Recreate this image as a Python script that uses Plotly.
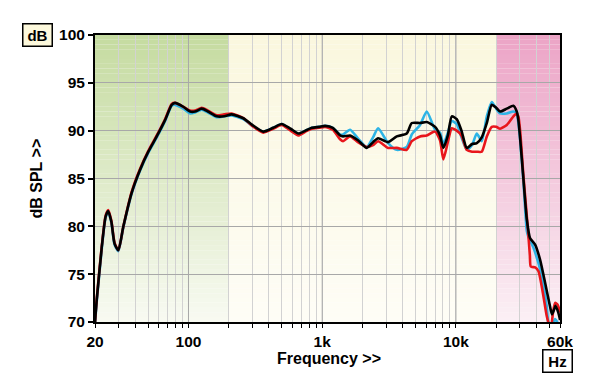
import plotly.graph_objects as go

# ---------------- data ----------------
freq_lf = [20, 20.6, 22.5, 24, 25.1, 26.5, 28, 29.9, 32.6, 37.6, 43.4, 50.1, 57.9, 66.8, 74.9, 79.3,
           91.4, 102.7, 112, 125.7, 140, 162.7, 185, 210.6, 257, 300, 363, 430, 498, 580, 663, 750,
           836, 950, 1050, 1200, 1360]
black_lf = [70.0, 72.3, 77.9, 81.0, 81.6, 80.5, 78.2, 77.5, 80.0, 83.5, 85.9, 87.8, 89.4, 91.1, 92.7, 92.9,
            92.5, 92.0, 92.0, 92.3, 92.0, 91.5, 91.5, 91.7, 91.3, 90.6, 89.9, 90.3, 90.7, 90.2, 89.7, 90.0,
            90.3, 90.4, 90.5, 90.3, 89.5]
red_lf = [70.0, 72.4, 78.0, 81.1, 81.7, 80.6, 78.3, 77.5, 80.0, 83.6, 86.0, 87.9, 89.5, 91.2, 92.8, 92.9,
          92.5, 92.1, 92.1, 92.4, 92.1, 91.6, 91.7, 91.8, 91.3, 90.5, 89.8, 90.2, 90.6, 90.0, 89.5, 89.9,
          90.2, 90.3, 90.4, 90.1, 89.1]
cyan_lf = [69.8, 72.1, 77.7, 80.9, 81.5, 80.4, 78.1, 77.4, 79.9, 83.4, 85.8, 87.7, 89.3, 91.0, 92.6, 92.7,
           92.3, 91.8, 91.9, 92.2, 91.9, 91.4, 91.5, 91.6, 91.2, 90.5, 89.9, 90.3, 90.7, 90.1, 89.7, 90.0,
           90.3, 90.4, 90.5, 90.3, 89.6]

freq_mf = [1432, 1616, 1850, 2154, 2400, 2619, 3108, 3612, 4288, 4676, 5394, 6052, 6986, 7600, 8056,
           8700, 9312, 10140, 11000, 12050, 13200, 14320, 15600, 17020, 18540, 20000, 21380, 24000,
           26900, 28500]
black_mf = [89.4, 89.5, 89.0, 88.2, 88.8, 89.2, 88.8, 89.4, 89.7, 90.8, 90.8, 90.9, 90.4, 89.5, 88.2,
            89.5, 91.5, 91.2, 90.0, 88.2, 88.6, 88.7, 89.3, 90.8, 92.7, 92.4, 92.0, 92.3, 92.6, 92.0]
cyan_mf = [89.6, 90.1, 89.2, 88.3, 89.3, 90.25, 88.7, 88.0, 88.3, 89.6, 90.6, 92.0, 90.1, 89.8, 88.6,
           89.8, 91.0, 90.7, 89.3, 88.0, 88.5, 89.7, 88.9, 91.5, 93.0, 92.3, 91.8, 91.8, 92.0, 91.8]
red_mf = [88.9, 89.4, 88.8, 88.3, 88.5, 88.9, 88.2, 88.2, 88.0, 88.9, 89.4, 89.5, 89.9, 89.0, 87.0,
          88.8, 90.25, 90.0, 89.5, 88.0, 87.8, 87.8, 87.8, 89.4, 90.4, 90.4, 90.2, 90.6, 91.5, 91.8]

freq_black_hf = [29300, 30200, 31950, 33900, 35860, 39080, 42600, 46420, 50600, 52300, 54200, 55600, 58200, 60100]
black_hf = [91.1, 89.2, 85.0, 80.7, 78.75, 78.1, 76.5, 74.1, 71.6, 70.8, 71.3, 71.7, 71.0, 70.2]

freq_cyan_hf = [29300, 30200, 31950, 33900, 34800, 37900, 43800, 47800, 49200, 51400, 55100, 58300, 60100]
cyan_hf = [90.8, 89.0, 84.7, 79.5, 78.9, 77.8, 74.8, 71.6, 69.8, 69.3, 70.3, 69.8, 69.5]

freq_red_hf = [29300, 30200, 31950, 34400, 35700, 36300, 39080, 41400, 45100, 47800, 49600, 51400,
               53200, 55140, 57600, 60100]
red_hf = [91.5, 90.0, 85.3, 80.0, 77.0, 75.8, 75.7, 75.3, 72.7, 70.6, 69.8, 69.5, 71.0, 72.0, 71.8, 71.0]

x_major = [20, 100, 1000, 10000, 60000]
x_major_text = ["20", "100", "1k", "10k", "60k"]
x_minor = [30, 40, 50, 60, 70, 80, 90, 200, 300, 400, 500, 600, 700, 800, 900,
           2000, 3000, 4000, 5000, 6000, 7000, 8000, 9000, 20000, 30000, 40000, 50000]
y_ticks = [70, 75, 80, 85, 90, 95, 100]

# background bands: (f_start, f_end, top colour, bottom colour)
regions = [
    (20, 200, (197, 219, 160), (248, 250, 242)),
    (200, 20000, (250, 247, 222), (254, 253, 246)),
    (20000, 60000, (236, 164, 198), (251, 240, 245)),
]

FONT = "Liberation Sans, Arial, sans-serif"

fig = go.Figure()

shapes = []
nb = 60
for f0, f1, ctop, cbot in regions:
    for i in range(nb):
        t = (i + 0.5) / nb
        c = tuple(round(cbot[k] + (ctop[k] - cbot[k]) * t) for k in range(3))
        y0 = 70 + 30 * i / nb
        y1 = 70 + 30 * (i + 1) / nb
        shapes.append(dict(type="rect", xref="x", yref="y", x0=f0, x1=f1, y0=y0, y1=y1 + 0.01,
                           fillcolor="rgb(%d,%d,%d)" % c, line=dict(width=0), layer="below"))
for f in [100, 1000, 10000]:
    shapes.append(dict(type="line", xref="x", yref="y", x0=f, x1=f, y0=70, y1=100,
                       line=dict(color="#a8a8a8", width=1), layer="between"))

series = [
    ("cyan", freq_lf + freq_mf + freq_cyan_hf, cyan_lf + cyan_mf + cyan_hf, "#2db4e6"),
    ("red", freq_lf + freq_mf + freq_red_hf, red_lf + red_mf + red_hf, "#e8161c"),
    ("black", freq_lf + freq_mf + freq_black_hf, black_lf + black_mf + black_hf, "#000000"),
]
for name, xs, ys, col in series:
    fig.add_trace(go.Scatter(x=xs, y=ys, mode="lines", name=name,
                             line=dict(color=col, width=2.6, shape="spline", smoothing=0.6),
                             hoverinfo="skip", showlegend=False))

fig.update_layout(
    width=600, height=389, autosize=False,
    margin=dict(l=95, r=40, t=35, b=67),
    paper_bgcolor="white", plot_bgcolor="white",
    shapes=shapes,
    font=dict(family=FONT, size=15, color="black"),
    xaxis=dict(type="log", range=[1.30103, 4.778151], tickvals=x_major, ticktext=x_major_text,
               showgrid=True, gridcolor="#d2d2d2", gridwidth=1,
               ticks="outside", ticklen=4, tickwidth=1, tickcolor="black",
               minor=dict(tickvals=x_minor, showgrid=True, gridcolor="#d2d2d2", gridwidth=1,
                          ticks="outside", ticklen=4, tickwidth=1, tickcolor="black"),
               showline=True, linecolor="black", linewidth=2, mirror=True,
               tickfont=dict(family=FONT, size=15.5, weight="bold"), zeroline=False),
    yaxis=dict(range=[70, 100], tickvals=y_ticks, showgrid=True, gridcolor="#a8a8a8", gridwidth=1,
               ticks="outside", ticklen=5, tickwidth=1.5, tickcolor="black",
               showline=True, linecolor="black", linewidth=2, mirror=True,
               tickfont=dict(family=FONT, size=15.5, weight="bold"), zeroline=False),
    annotations=[
        dict(text="<b>dB</b>", xref="paper", yref="paper", x=(37.5 - 95) / 465, y=1.0,
             xanchor="center", yanchor="middle", showarrow=False, font=dict(size=15),
             bgcolor="#fdf9dc", bordercolor="black", borderwidth=1.5, borderpad=1.5,
             width=25, height=18),
        dict(text="<b>Hz</b>", xref="paper", yref="paper", x=(557.5 - 95) / 465, y=(322 - 361) / 287,
             xanchor="center", yanchor="middle", showarrow=False, font=dict(size=15),
             bgcolor="white", bordercolor="black", borderwidth=1.5, borderpad=1.5,
             width=25, height=18),
        dict(text="<b>dB SPL >></b>", xref="paper", yref="paper", x=(36 - 95) / 465, y=0.5,
             xanchor="center", yanchor="middle", textangle=-90, showarrow=False, font=dict(size=16)),
        dict(text="<b>Frequency >></b>", xref="paper", yref="paper", x=(329 - 95) / 465,
             y=(322 - 358) / 287, xanchor="center", yanchor="middle", showarrow=False,
             font=dict(size=16)),
    ],
)

fig.write_html("out.html", config={"displayModeBar": False},
               post_script="document.body.style.margin='0';document.body.style.overflow='hidden';")
